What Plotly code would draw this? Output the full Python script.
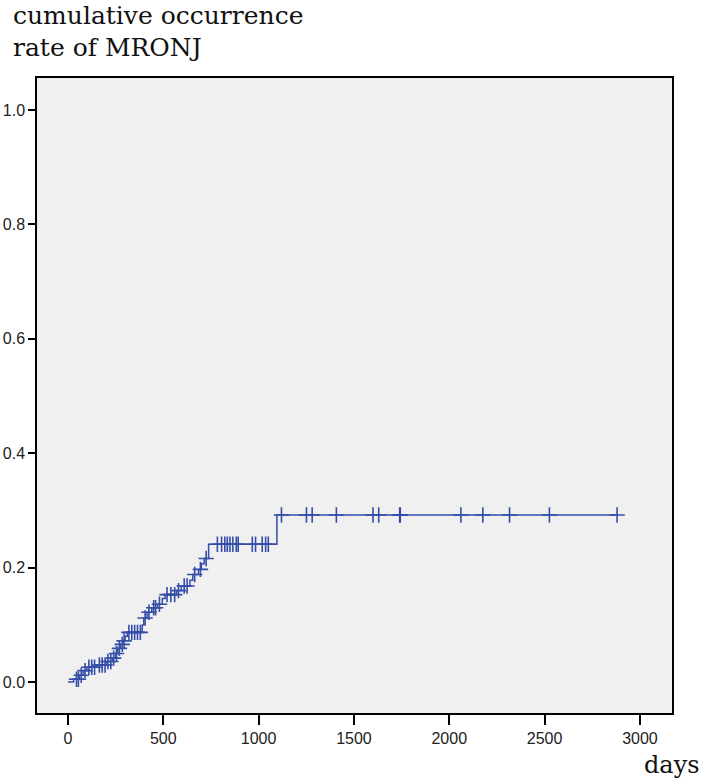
import plotly.graph_objects as go
import numpy as np

# Event steps (days, cumulative occurrence rate after the step)
event_days = [0, 30, 60, 80, 100, 150, 200, 235, 250, 262, 275, 288, 300, 312, 390, 398, 415,
              440, 470, 495, 510, 570, 595, 640, 655, 685, 700, 715, 738, 1096]
event_rates = [0.0, 0.005, 0.012, 0.020, 0.026, 0.030, 0.036, 0.042, 0.050, 0.059, 0.066, 0.072,
               0.080, 0.087, 0.100, 0.112, 0.122, 0.130, 0.136, 0.146, 0.153, 0.160, 0.168,
               0.178, 0.188, 0.197, 0.207, 0.216, 0.241, 0.292]
last_day = 2880

# Censored observations (days)
censor_days = [45, 55, 70, 90, 110, 125, 140, 165, 180, 195, 210, 225, 240, 255, 270, 285, 295,
               320, 335, 350, 365, 380, 405, 425, 450, 460, 480, 520, 540, 560, 580, 610, 625,
               665, 695, 725, 784, 806, 823, 836, 850, 865, 883, 893, 967, 984, 1019, 1037, 1051,
               1120, 1251, 1281, 1408, 1600, 1630, 1740, 1743, 2061, 2176, 2316, 2525, 2880]

x_ticks = [0, 500, 1000, 1500, 2000, 2500, 3000]
y_ticks = [0.0, 0.2, 0.4, 0.6, 0.8, 1.0]

line_x = event_days + [last_day]
line_y = event_rates + [event_rates[-1]]

ed = np.array(event_days)
er = np.array(event_rates)
censor_rates = [float(er[np.searchsorted(ed, d, side="right") - 1]) for d in censor_days]

blue = "rgb(52,78,168)"

fig = go.Figure()
fig.add_trace(go.Scatter(x=line_x, y=line_y, mode="lines", line=dict(color=blue, width=1.5, shape="hv"),
                         showlegend=False, hoverinfo="skip"))
fig.add_trace(go.Scatter(x=censor_days, y=censor_rates, mode="markers",
                         marker=dict(symbol="cross-thin", size=11, line=dict(color=blue, width=1.6)),
                         showlegend=False))

axis_font = dict(family="Liberation Sans, Arial, sans-serif", size=16, color="#222")
serif = "DejaVu Serif, Liberation Serif, serif"
fig.update_layout(
    width=703, height=780,
    margin=dict(l=37, r=31, t=78, b=67),
    paper_bgcolor="white",
    plot_bgcolor="#f0f0f0",
    xaxis=dict(range=[-162, 3168], tickvals=x_ticks, ticks="outside", ticklen=10, tickwidth=1.5,
               tickcolor="black", showline=True, linecolor="black", linewidth=1.5, mirror=True,
               showgrid=False, zeroline=False, tickfont=axis_font, automargin=False),
    yaxis=dict(range=[-0.054, 1.056], tickvals=y_ticks, tickformat=".1f", ticks="outside", ticklen=7,
               tickwidth=1.5, tickcolor="black", showline=True, linecolor="black", linewidth=1.5,
               mirror=True, showgrid=False, zeroline=False, tickfont=axis_font, automargin=False),
    annotations=[
        dict(text="cumulative occurrence", xref="paper", yref="paper", x=0, y=1, xshift=-26,
             yshift=63, xanchor="left", yanchor="middle", showarrow=False,
             font=dict(family=serif, size=25, color="#111")),
        dict(text="rate of MRONJ", xref="paper", yref="paper", x=0, y=1, xshift=-26,
             yshift=31, xanchor="left", yanchor="middle", showarrow=False,
             font=dict(family=serif, size=25, color="#111")),
        dict(text="days", xref="paper", yref="paper", x=1, y=0, xshift=30, yshift=-52,
             xanchor="right", yanchor="middle", showarrow=False,
             font=dict(family=serif, size=24, color="#111")),
    ],
)

fig.write_html("out.html", config={"displayModeBar": False},
               post_script="document.body.style.margin='0px';")
